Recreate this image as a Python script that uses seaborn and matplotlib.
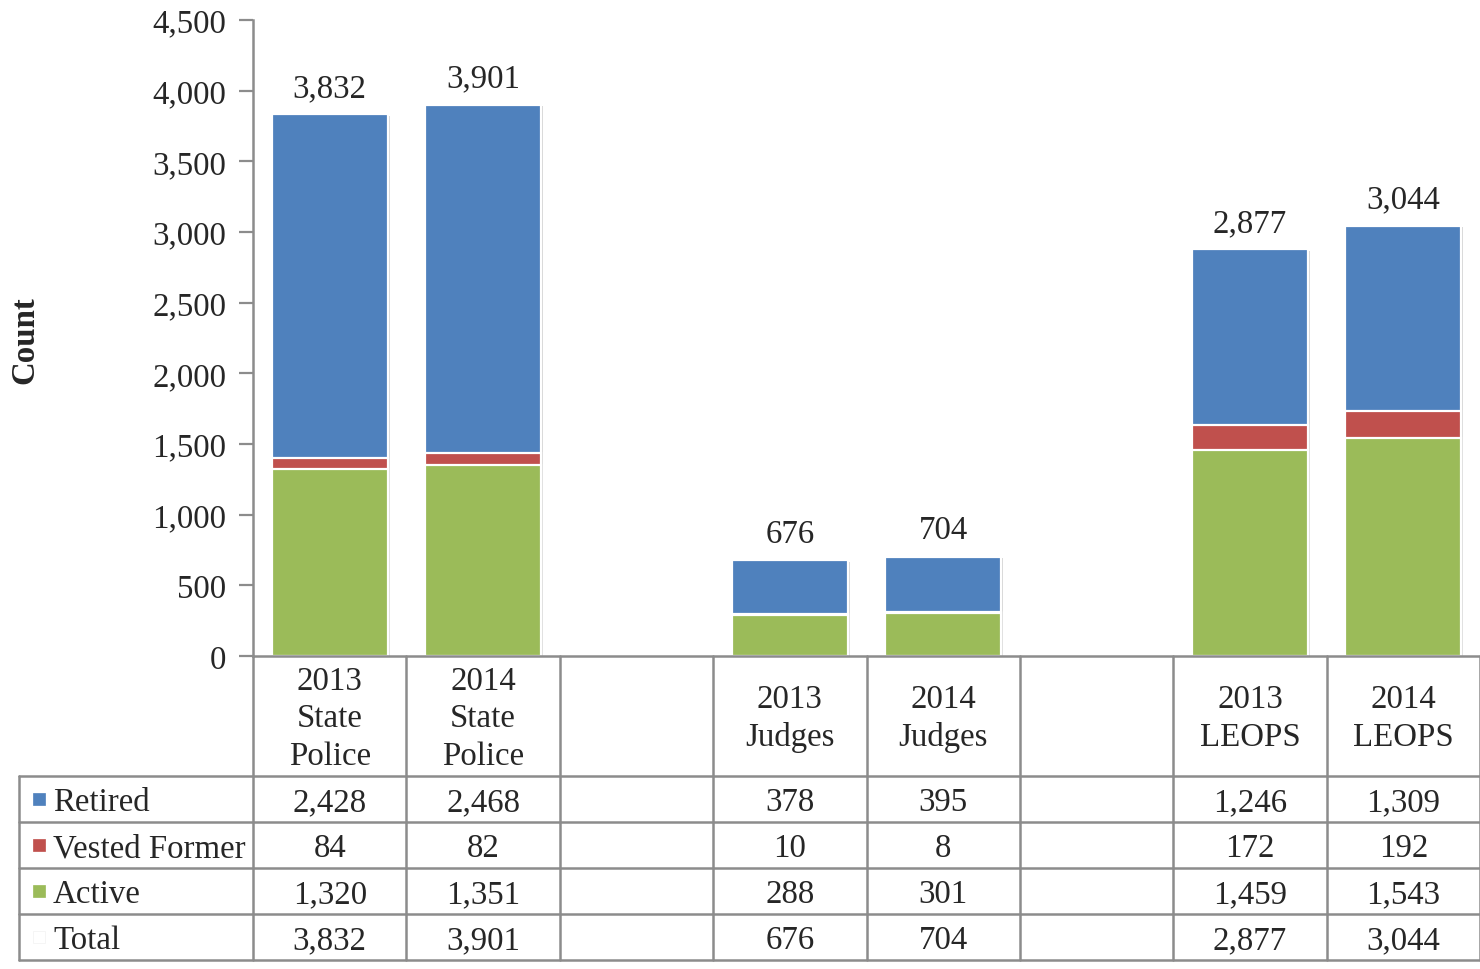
import numpy as np
import pandas as pd
import seaborn as sns
import matplotlib.pyplot as plt
from matplotlib import patheffects
from matplotlib.patches import Rectangle
from matplotlib.ticker import FuncFormatter
from matplotlib.transforms import blended_transform_factory

# chart data
col_keys = ["SP2013", "SP2014", "gap1", "J2013", "J2014", "gap2", "L2013", "L2014"]
col_headers = ["2013\nState\nPolice", "2014\nState\nPolice", "", "2013\nJudges", "2014\nJudges", "",
               "2013\nLEOPS", "2014\nLEOPS"]
retired = [2428, 2468, np.nan, 378, 395, np.nan, 1246, 1309]
vested = [84, 82, np.nan, 10, 8, np.nan, 172, 192]
active = [1320, 1351, np.nan, 288, 301, np.nan, 1459, 1543]
total = [3832, 3901, np.nan, 676, 704, np.nan, 2877, 3044]
series_names = ["Retired", "Vested Former", "Active", "Total"]
series_colors = ["#4F81BD", "#C0504D", "#9BBB59", "#FFFFFF"]

df = pd.DataFrame({"col": col_keys, "retired": retired, "vested": vested,
                   "active": active, "total": total})
df["act_vest"] = df["active"] + df["vested"]

sns.set_style("white")
plt.rcParams["font.family"] = ["Liberation Serif", "DejaVu Serif"]
FS = 23.7
GRID = "#8C8C8C"

W, H = 1480, 970
fig = plt.figure(figsize=(W / 100, H / 100), dpi=100)
ax = fig.add_axes([253 / W, 1 - 657 / H, (1480 - 253) / W, (657 - 21) / H])

# stacked bars drawn back to front
for col, color in [("total", series_colors[0]), ("act_vest", series_colors[1]), ("active", series_colors[2])]:
    sns.barplot(data=df, x="col", y=col, order=col_keys, color=color, saturation=1,
                width=0.755, edgecolor="white", linewidth=1.6, errorbar=None, ax=ax)

back = ax.containers[0]
for p in back.patches:
    p.set_path_effects([patheffects.withSimplePatchShadow(offset=(1.5, -1), shadow_rgbFace="#7f7f7f", alpha=0.35),
                        patheffects.Normal()])

ax.bar_label(back, labels=["" if np.isnan(v) else f"{v:,.0f}" for v in back.datavalues],
             padding=8, fontsize=FS)

ax.set_xlim(-0.5, len(col_keys) - 0.5)
ax.set_ylim(0, 4500)
ax.set_yticks(np.arange(0, 4501, 500))
ax.yaxis.set_major_formatter(FuncFormatter(lambda v, p: f"{v:,.0f}"))
ax.tick_params(axis="y", left=True, length=10, width=1.6, color=GRID, pad=9, labelsize=FS)
ax.set_xticks([])
ax.set_xlabel("")
ax.set_ylabel("")
for side in ["top", "right"]:
    ax.spines[side].set_visible(False)
for side in ["left", "bottom"]:
    ax.spines[side].set_color(GRID)
    ax.spines[side].set_linewidth(1.8)

fig.text(25 / W, 1 - 340 / H, "Count", rotation=90, fontsize=FS, fontweight="bold",
         ha="center", va="center")

# data table below the chart
fy = lambda px: 1 - px / H
fx = lambda px: px / W
tr = blended_transform_factory(ax.transData, fig.transFigure)
row_edges = [777, 823, 869, 915, 961]
lw = 1.8

for r in row_edges:
    fig.add_artist(plt.Line2D([fx(19), 1.0], [fy(r), fy(r)], color=GRID, lw=lw, transform=fig.transFigure))
fig.add_artist(plt.Line2D([fx(19), fx(19)], [fy(777), fy(961)], color=GRID, lw=lw, transform=fig.transFigure))
for i in range(len(col_keys) + 1):
    xb = i - 0.5
    fig.add_artist(plt.Line2D([xb, xb], [fy(657), fy(961)], color=GRID, lw=lw, transform=tr))

for i, hdr in enumerate(col_headers):
    fig.text(i, fy(719), hdr, transform=tr, ha="center", va="center", fontsize=FS, linespacing=1.3)

row_values = [retired, vested, active, total]
for r, (name, color, vals) in enumerate(zip(series_names, series_colors, row_values)):
    yc = (row_edges[r] + row_edges[r + 1]) / 2
    fig.add_artist(Rectangle((fx(33), fy(yc + 6)), 12 / W, 12 / H, transform=fig.transFigure,
                             facecolor=color, edgecolor="#F2F2F2" if color == "#FFFFFF" else color, lw=0.5))
    fig.text(fx(53), fy(yc + 3), name, ha="left", va="center", fontsize=FS)
    for i, v in enumerate(vals):
        if not np.isnan(v):
            fig.text(i, fy(yc + 3), f"{v:,.0f}", transform=tr, ha="center", va="center", fontsize=FS)

fig.savefig("out.png", dpi=100)
